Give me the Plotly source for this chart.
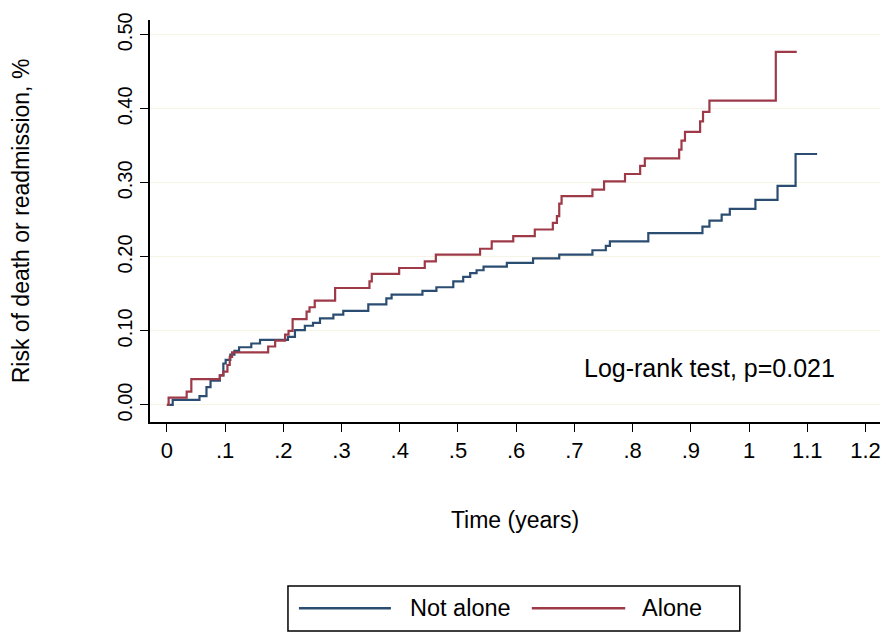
import plotly.graph_objects as go

# Not alone (blue) - step times (years) and cumulative risk
not_alone_time = [0.000, 0.010, 0.056, 0.068, 0.075, 0.091, 0.097, 0.101, 0.109, 0.116,
                  0.124, 0.145, 0.160, 0.208, 0.220, 0.237, 0.251, 0.263, 0.286, 0.303,
                  0.346, 0.377, 0.386, 0.439, 0.463, 0.492, 0.509, 0.521, 0.532, 0.544,
                  0.584, 0.629, 0.674, 0.731, 0.754, 0.761, 0.827, 0.920, 0.932, 0.953,
                  0.967, 1.011, 1.049, 1.080, 1.117]
not_alone_risk = [0.000, 0.007, 0.012, 0.024, 0.033, 0.040, 0.056, 0.061, 0.068, 0.073,
                  0.078, 0.083, 0.088, 0.092, 0.101, 0.107, 0.111, 0.117, 0.122, 0.127,
                  0.136, 0.144, 0.149, 0.154, 0.159, 0.167, 0.173, 0.178, 0.182, 0.187,
                  0.192, 0.198, 0.203, 0.209, 0.215, 0.221, 0.232, 0.241, 0.249, 0.257,
                  0.265, 0.277, 0.296, 0.339, 0.339]

# Alone (red)
alone_time = [0.000, 0.003, 0.034, 0.042, 0.091, 0.097, 0.104, 0.108, 0.112, 0.174,
              0.186, 0.203, 0.209, 0.216, 0.240, 0.245, 0.254, 0.289, 0.348, 0.352,
              0.399, 0.443, 0.462, 0.538, 0.558, 0.595, 0.632, 0.663, 0.670, 0.674,
              0.678, 0.731, 0.751, 0.787, 0.813, 0.821, 0.880, 0.884, 0.890, 0.916,
              0.921, 0.932, 1.046, 1.082]
alone_risk = [0.000, 0.010, 0.018, 0.035, 0.040, 0.045, 0.054, 0.065, 0.071, 0.079,
              0.087, 0.095, 0.100, 0.116, 0.126, 0.132, 0.141, 0.158, 0.167, 0.177,
              0.185, 0.194, 0.203, 0.211, 0.221, 0.228, 0.237, 0.246, 0.255, 0.272,
              0.282, 0.291, 0.302, 0.312, 0.323, 0.333, 0.345, 0.357, 0.369, 0.383,
              0.396, 0.411, 0.477, 0.477]

x_ticks = [0, 0.1, 0.2, 0.3, 0.4, 0.5, 0.6, 0.7, 0.8, 0.9, 1.0, 1.1, 1.2]
x_tick_labels = ["0", ".1", ".2", ".3", ".4", ".5", ".6", ".7", ".8", ".9", "1", "1.1", "1.2"]
y_ticks = [0.0, 0.1, 0.2, 0.3, 0.4, 0.5]
y_tick_labels = ["0.00", "0.10", "0.20", "0.30", "0.40", "0.50"]

BLUE = "#2b4d71"
RED = "#9e3a48"
FONT = "Liberation Sans, Arial, sans-serif"

fig = go.Figure()
fig.add_trace(go.Scatter(x=not_alone_time, y=not_alone_risk, mode="lines",
                         line=dict(shape="hv", color=BLUE, width=2.2),
                         name="Not alone", showlegend=False))
fig.add_trace(go.Scatter(x=alone_time, y=alone_risk, mode="lines",
                         line=dict(shape="hv", color=RED, width=2.2),
                         name="Alone", showlegend=False))

# page body has an 8px margin, so the figure is sized/offset to compensate
fig.update_layout(
    width=888, height=630,
    margin=dict(l=142, r=16, t=12, b=216),
    paper_bgcolor="white", plot_bgcolor="white",
    font=dict(family=FONT, color="black"),
    xaxis=dict(range=[-0.029, 1.225], tickvals=x_ticks, ticktext=x_tick_labels,
               showline=True, linecolor="black", linewidth=1.5,
               ticks="outside", ticklen=8, tickwidth=1.2, tickcolor="black",
               showgrid=False, zeroline=False, automargin=False,
               tickfont=dict(size=22),
               title=dict(text="Time (years)", font=dict(size=23), standoff=50)),
    yaxis=dict(range=[-0.023, 0.52], tickvals=y_ticks, ticktext=y_tick_labels,
               showline=True, linecolor="black", linewidth=1.5,
               ticks="outside", ticklen=8, tickwidth=1.2, tickcolor="black",
               showgrid=True, gridcolor="#f6f4e4", gridwidth=1, zeroline=False,
               automargin=False,
               tickangle=-90, tickfont=dict(size=20),
               title=dict(text="Risk of death or readmission, %", font=dict(size=23), standoff=86)),
)

fig.add_annotation(x=0.767, y=0.134, xref="paper", yref="paper",
                   text="Log-rank test, p=0.021", showarrow=False,
                   font=dict(size=25), xanchor="center", yanchor="middle")

# Legend box drawn manually
fig.add_shape(type="rect", xref="paper", yref="paper",
              x0=0.189, x1=0.808, y0=-0.520, y1=-0.408,
              line=dict(color="black", width=1.5), fillcolor="white")
fig.add_shape(type="line", xref="paper", yref="paper",
              x0=0.204, x1=0.330, y0=-0.463, y1=-0.463,
              line=dict(color=BLUE, width=2.5))
fig.add_shape(type="line", xref="paper", yref="paper",
              x0=0.523, x1=0.651, y0=-0.463, y1=-0.463,
              line=dict(color=RED, width=2.5))
fig.add_annotation(x=0.353, y=-0.463, xref="paper", yref="paper", text="Not alone",
                   showarrow=False, xanchor="left", yanchor="middle", font=dict(size=23.5))
fig.add_annotation(x=0.671, y=-0.463, xref="paper", yref="paper", text="Alone",
                   showarrow=False, xanchor="left", yanchor="middle", font=dict(size=23.5))

fig.write_html("out.html")
